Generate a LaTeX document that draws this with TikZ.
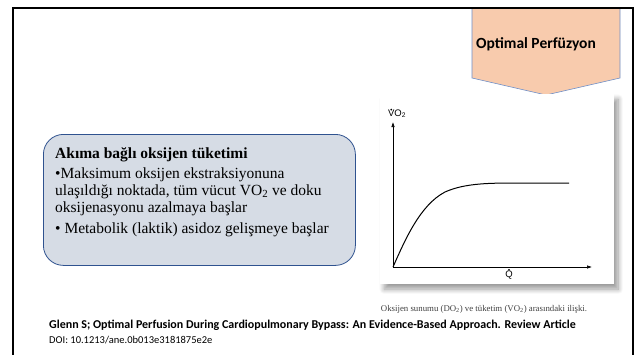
\documentclass[tikz,border=0pt]{standalone}
\usepackage{fontspec}
\setmainfont{Liberation Serif}
\setsansfont{Liberation Sans}
\newfontfamily\calibri{Carlito}
\usetikzlibrary{arrows.meta, positioning, shadows.blur, calc}

\definecolor{peach}{HTML}{F8CBAD}
\definecolor{peachline}{HTML}{6F8FC8}
\definecolor{boxfill}{HTML}{D6DCE5}
\definecolor{boxline}{HTML}{2F528F}
\definecolor{captiongray}{HTML}{404040}

\begin{document}
\begin{tikzpicture}[
    x=1pt, y=-1pt,
    % Styles
    frame/.style={draw=black, line width=2.4pt},
    infobox/.style={rectangle, draw=boxline, fill=boxfill, rounded corners=20pt, line width=0.8pt},
    boxtext/.style={anchor=north west, align=left, font=\fontsize{15.5}{17}\selectfont, inner sep=0pt},
    panel/.style={rectangle, fill=white, blur shadow={shadow xshift=4pt, shadow yshift=-5pt, shadow blur radius=5pt, shadow blur steps=10}},
    axis/.style={-{Latex[length=5pt, width=3.5pt]}, line width=0.6pt},
    curve/.style={line width=1pt},
    axlabel/.style={font=\sffamily\fontsize{9.5}{11}\selectfont, inner sep=1pt},
    cite/.style={anchor=west, inner sep=0pt, font=\calibri\fontsize{10.5}{12}\selectfont},
]
\useasboundingbox (0,0) rectangle (636,354);

% === Title tag (top right) ===
\coordinate (tagtl) at (472,8);
\coordinate (tagtr) at (620,8);
\coordinate (tagbr) at (620,78);
\coordinate (tagtip) at (546,95);
\coordinate (tagbl) at (472,78);
\draw[peachline, fill=peach, line width=0.6pt] (tagbl) -- (tagtl) -- (tagtr) -- (tagbr) -- (tagtip) -- cycle;
\node[font=\calibri\bfseries\fontsize{15.5}{17}\selectfont] (tagtext) at (536,44) {Optimal Perfüzyon};

% Slide frame
\draw[frame] (13,360) -- (13,8) -- (633,8) -- (633,360);

% === Info box (left) ===
\node[infobox, minimum width=312pt, minimum height=131pt, anchor=north west] (info) at (43,134) {};
\node[boxtext] (infotext) at (55,147) {%
  \textbf{Akıma bağlı oksijen tüketimi}\\[3pt]
  •Maksimum oksijen ekstraksiyonuna\\
  ulaşıldığı noktada, tüm vücut VO\textsubscript{2} ve doku\\
  oksijenasyonu azalmaya başlar\\[4.5pt]
  • Metabolik (laktik) asidoz gelişmeye başlar};

% === Graph (right) ===
\node[panel, minimum width=234pt, minimum height=190pt, anchor=north west] (graph) at (380,94) {};
\coordinate (origin) at (393,267);
\coordinate (ytop) at (393,122);
\coordinate (xend) at (592,267);
\draw[axis] (origin) -- (ytop);
\draw[axis] (origin) -- (xend);
\draw[curve] (origin) .. controls (405,240) and (420,205) .. (445,192)
    .. controls (465,183) and (490,183) .. (520,183) -- (569,183);
\node[axlabel, anchor=south] (ylabel) at (397,119) {VO\textsubscript{2}};
\node[axlabel, anchor=north] (xlabel) at (509,270) {Q};
% dots over V and Q
\fill ($(ylabel.north west)+(4.4,1.2)$) circle (0.9pt);
\fill ($(xlabel.north)+(0,-0.3)$) circle (0.9pt);

% Caption
\node[font=\fontsize{8.8}{10}\selectfont, text=captiongray] (caption) at (484,309) {Oksijen sunumu (DO\textsubscript{2}) ve tüketim (VO\textsubscript{2}) arasındaki ilişki.};

% === Reference ===
\node[cite, font=\calibri\bfseries\fontsize{12}{13}\selectfont] (ref) at (49,325) {Glenn S; Optimal Perfusion During Cardiopulmonary Bypass: An Evidence-Based Approach. Review Article};
\node[cite] (doi) at (49,340) {DOI: 10.1213/ane.0b013e3181875e2e};

\end{tikzpicture}
\end{document}
